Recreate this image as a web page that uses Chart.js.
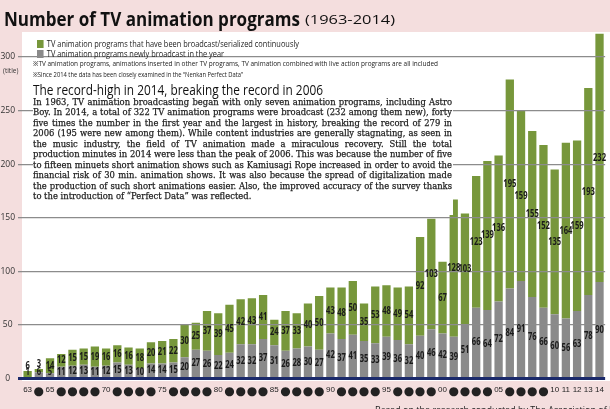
<!DOCTYPE html>
<html>
<head>
<meta charset="utf-8">
<script src="https://cdn.jsdelivr.net/npm/chart.js"></script>
<style>
  html, body { margin: 0; padding: 0; }
  body { width: 610px; height: 409px; overflow: hidden; position: relative; background: #f4dede; font-family: "Open Sans", "Noto Sans", sans-serif; }
  #wrap { position: absolute; left: 0; top: 0; width: 610px; height: 409px; }
  .abs { position: absolute; white-space: nowrap; transform-origin: 0 0; }
  #title { left: 4px; top: 5px; font-size: 20px; font-weight: bold; color: #111; }
  #years { left: 305px; top: 10px; font-size: 13px; color: #111; }
  .leg { font-size: 9px; color: #222; }
  .leg i { display: inline-block; width: 8px; height: 8px; margin-right: 4px; vertical-align: -1px; }
  .note { font-size: 7px; color: #222; }
  #head { left: 33px; top: 79px; font-size: 15px; color: #111; }
  #textbox { position: absolute; left: 33px; top: 78px; width: 420px; height: 137px; background: #fff; }
  #para { left: 33px; top: 97px; font-family: "DejaVu Serif", serif; font-size: 9.6px; line-height: 10.45px; color: #1a1a1a; -webkit-text-stroke: 0.25px #1a1a1a; }
  #para div { text-align: justify; text-align-last: justify; white-space: nowrap; }
  #para div.last { text-align-last: left; }
  #ttl { left: 3px; top: 66px; font-size: 6.5px; color: #333; }
  #foot { left: 375px; top: 403px; font-size: 9px; color: #222; }
</style>
</head>
<body>
<div id="wrap"><canvas id="myChart" width="610" height="409"></canvas></div>
<div id="textbox"></div>
<div class="abs" id="title" data-w="296">Number of TV animation programs</div>
<div class="abs" id="years" data-w="90">(1963-2014)</div>
<div class="abs leg" style="left:37px; top:37px;" data-w="262"><i style="background:#77973b"></i>TV animation programs that have been broadcast/serialized continuously</div>
<div class="abs leg" style="left:37px; top:47px;" data-w="187"><i style="background:#8a8a8a"></i>TV animation programs newly broadcast in the year</div>
<div class="abs note" style="left:33px; top:59px;" data-w="405">※TV animation programs, animations inserted in other TV programs, TV animation combined with live action programs are all included</div>
<div class="abs note" style="left:33px; top:70px;" data-w="210">※Since 2014 the data has been closely examined in the “Nenkan Perfect Data”</div>
<div class="abs" id="head" data-w="290">The record-high in 2014, breaking the record in 2006</div>
<div class="abs" id="para">
  <div>In 1963, TV animation broadcasting began with only seven animation programs, including Astro</div>
  <div>Boy. In 2014, a total of 322 TV animation programs were broadcast (232 among them new), forty</div>
  <div>five times the number in the first year and the largest in history, breaking the record of 279 in</div>
  <div>2006 (195 were new among them). While content industries are generally stagnating, as seen in</div>
  <div>the music industry, the field of TV animation made a miraculous recovery. Still the total</div>
  <div>production minutes in 2014 were less than the peak of 2006. This was because the number of five</div>
  <div>to fifteen minuets short animation shows such as Kamiusagi Rope increased in order to avoid the</div>
  <div>financial risk of 30 min. animation shows. It was also because the spread of digitalization made</div>
  <div>the production of such short animations easier. Also, the improved accuracy of the survey thanks</div>
  <div class="last">to the introduction of “Perfect Data” was reflected.</div>
</div>
<div class="abs" id="ttl">(title)</div>
<div class="abs" id="foot">Based on the research conducted by The Association of Japanese Animations</div>
<script>
// years 1963-2014
var years = [];
for (var y = 1963; y <= 2014; y++) years.push(y);

// programs newly broadcast in the year (gray)
var newPrograms = [1, 6, 5, 11, 12, 13, 11, 12, 15, 13,
                   10, 14, 14, 15, 20, 27, 26, 22, 24, 32,
                   32, 37, 31, 26, 28, 30, 27, 42, 37, 41,
                   35, 33, 39, 36, 32, 40, 46, 42, 39, 51,
                   66, 64, 72, 84, 91, 76, 66, 60, 56, 63,
                   78, 90];

// programs broadcast continuously (green)
var continued = [6, 3, 14, 12, 15, 15, 19, 16, 16, 16,
                 18, 20, 21, 22, 30, 25, 37, 39, 45, 42,
                 43, 41, 24, 37, 33, 40, 50, 43, 48, 50,
                 35, 53, 48, 49, 54, 92, 103, 67, 128, 103,
                 123, 139, 136, 195, 159, 155, 152, 135, 164, 159,
                 193, 232];

// years that get a number under the axis, the rest get a dot
var labelledYears = [1963, 1965, 1970, 1975, 1980, 1985, 1990, 1995, 2000, 2005, 2010, 2011, 2012, 2013, 2014];
var yTicks = [0, 50, 100, 150, 200, 250, 300];

var GREEN = '#77973b';
var GRAY = '#8a8a8a';

var panelPlugin = {
    id: 'panel',
    beforeDraw: function(chart) {
        var c = chart.ctx;
        c.save();
        c.fillStyle = '#f4dede';
        c.fillRect(0, 0, chart.width, chart.height);
        c.fillStyle = '#ffffff';
        c.fillRect(22, 32, chart.width - 22, 349);
        c.restore();
    }
};

var valuePlugin = {
    id: 'values',
    afterDraw: function(chart) {
        var c = chart.ctx;
        chart.data.datasets.forEach(function(ds, di) {
            var meta = chart.getDatasetMeta(di);
            meta.data.forEach(function(bar, i) {
                var h = bar.base - bar.y;
                var ty = (bar.y + bar.base) / 2;
                if (h < 10) ty = di === 1 ? bar.y - 5 : bar.base - 5;
                c.save();
                c.font = 'bold 10.5px "Open Sans", sans-serif';
                c.fillStyle = '#1a1a1a';
                c.textAlign = 'center';
                c.textBaseline = 'middle';
                c.translate(bar.x, ty);
                c.scale(0.72, 1);
                c.fillText(ds.data[i], 0, 0);
                c.restore();
            });
        });
    }
};

var ctx = document.getElementById('myChart').getContext('2d');
var myChart = new Chart(ctx, {
    type: 'bar',
    data: {
        labels: years,
        datasets: [{
            label: 'TV animation programs newly broadcast in the year',
            backgroundColor: GRAY,
            data: newPrograms,
            barPercentage: 0.74,
            categoryPercentage: 1
        }, {
            label: 'TV animation programs that have been broadcast/serialized continuously',
            backgroundColor: GREEN,
            data: continued,
            barPercentage: 0.74,
            categoryPercentage: 1
        }]
    },
    options: {
        responsive: false,
        animation: false,
        layout: { padding: { left: 0, right: 3, top: 33.4, bottom: 2.4 } },
        plugins: {
            legend: { display: false },
            tooltip: { enabled: false }
        },
        scales: {
            x: {
                stacked: true,
                grid: { display: false, drawTicks: false },
                border: { display: false },
                afterFit: function(s) { s.height = 28; },
                ticks: {
                    autoSkip: false,
                    maxRotation: 0,
                    padding: 6,
                    color: '#222',
                    font: function(c) {
                        var yr = years[c.index];
                        return labelledYears.indexOf(yr) >= 0 ? { size: 8, family: 'Liberation Sans' } : { size: 12, family: 'DejaVu Sans' };
                    },
                    callback: function(v, i) {
                        var yr = years[i];
                        return labelledYears.indexOf(yr) >= 0 ? String(yr).slice(2) : '●';
                    }
                }
            },
            y: {
                stacked: true,
                min: 0,
                max: 322,
                afterFit: function(s) { s.width = 22; },
                afterBuildTicks: function(s) { s.ticks = yTicks.map(function(v) { return { value: v }; }); },
                border: { display: false },
                grid: {
                    z: 1,
                    tickLength: 4,
                    color: function(c) { return c.tick && c.tick.value === 0 ? '#1b2a6b' : '#8c8c8c'; },
                    lineWidth: function(c) { return c.tick && c.tick.value === 0 ? 3 : 1.3; }
                },
                ticks: {
                    crossAlign: 'center',
                    color: '#333',
                    font: { size: 8.5, family: 'Open Sans' }
                }
            }
        }
    },
    plugins: [panelPlugin, valuePlugin]
});

// squeeze the overlay texts to the widths they have in the picture
document.querySelectorAll('[data-w]').forEach(function(el) {
    var w = el.getBoundingClientRect().width;
    var target = parseFloat(el.getAttribute('data-w'));
    el.style.transform = 'scaleX(' + (target / w) + ')';
});
var para = document.getElementById('para');
var maxW = 0;
para.querySelectorAll('div').forEach(function(d) {
    d.style.display = 'inline-block';
    maxW = Math.max(maxW, d.getBoundingClientRect().width);
    d.style.display = 'block';
});
para.style.width = maxW + 'px';
para.style.transform = 'scaleX(' + (419 / maxW) + ')';
</script>
</body>
</html>
